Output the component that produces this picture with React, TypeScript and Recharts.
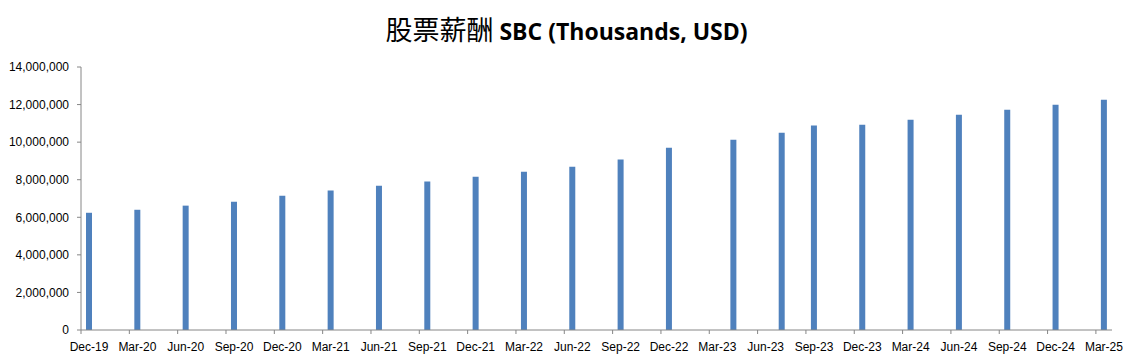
import React from "react";
import { BarChart, Bar, XAxis, YAxis } from "recharts";

// quarter-end dates the company reported on (two of them fall a month late)
const REPORT_DATES = [
  "Dec-19", "Mar-20", "Jun-20", "Sep-20", "Dec-20", "Mar-21", "Jun-21", "Sep-21",
  "Dec-21", "Mar-22", "Jun-22", "Sep-22", "Dec-22", "Apr-23", "Jul-23", "Sep-23",
  "Dec-23", "Mar-24", "Jun-24", "Sep-24", "Dec-24", "Mar-25",
];

// stock based compensation, thousands USD
const SBC_VALUES = [
  6240000, 6400000, 6620000, 6830000, 7150000, 7420000, 7680000, 7900000,
  8160000, 8430000, 8690000, 9070000, 9700000, 10130000, 10500000, 10880000,
  10930000, 11190000, 11460000, 11730000, 11990000, 12260000,
];

const Y_TICKS = [0, 2000000, 4000000, 6000000, 8000000, 10000000, 12000000, 14000000];

const MONTH_NAMES = ["Jan", "Feb", "Mar", "Apr", "May", "Jun", "Jul", "Aug", "Sep", "Oct", "Nov", "Dec"];

// date axis: one slot per calendar month, Dec-19 .. Mar-25
const monthSlots: string[] = [];
for (let y = 2019, m = 11; y < 2025 || (y === 2025 && m <= 2); ) {
  monthSlots.push(`${MONTH_NAMES[m]}-${String(y).slice(2)}`);
  m++;
  if (m > 11) {
    m = 0;
    y++;
  }
}

const data = monthSlots.map((month) => {
  const i = REPORT_DATES.indexOf(month);
  return { month, sbc: i >= 0 ? SBC_VALUES[i] : null };
});

const WIDTH = 1141;
const HEIGHT = 361;
const MARGIN = { top: 67, right: 29, bottom: 0, left: 0 };
const Y_AXIS_W = 81;
const BAND = (WIDTH - MARGIN.left - MARGIN.right - Y_AXIS_W) / monthSlots.length;
const AXIS_COLOR = "#868686";
const FONT = "'Liberation Sans', Arial, sans-serif";

const MonthTick = (props: any) => {
  const { x, y, payload } = props;
  // Excel date axis: tick mark on the slot boundary, label in the middle
  const bx = x - BAND / 2;
  return (
    <g>
      <line x1={bx} x2={bx} y1={y - 12} y2={y - 8} stroke={AXIS_COLOR} />
      <text x={x} y={y} dy="0.71em" textAnchor="middle" fill="#000" fontSize={12} fontFamily={FONT}>
        {payload.value}
      </text>
    </g>
  );
};

export default function App() {
  return (
    <div style={{ position: "relative", width: WIDTH, height: HEIGHT, background: "#fff" }}>
      <style>{`body{margin:0}`}</style>
      <div
        style={{
          position: "absolute",
          top: 12,
          left: 0,
          width: WIDTH - 8,
          textAlign: "center",
          whiteSpace: "nowrap",
          color: "#000",
          lineHeight: "34px",
        }}
      >
        <span style={{ fontFamily: "'Noto Sans CJK SC'", fontSize: 27, fontWeight: 400 }}>股票薪酬</span>
        <span style={{ fontFamily: "'Open Sans', sans-serif", fontSize: 23, fontWeight: 700 }}>
          {" "}SBC (Thousands, USD)
        </span>
      </div>
      <BarChart width={WIDTH} height={HEIGHT} data={data} margin={MARGIN}>
        <XAxis
          dataKey="month"
          interval={2}
          height={31}
          tickSize={4}
          tickMargin={8}
          tickLine={false}
          axisLine={{ stroke: AXIS_COLOR }}
          tick={<MonthTick />}
        />
        <YAxis
          width={Y_AXIS_W}
          domain={[0, 14000000]}
          ticks={Y_TICKS}
          tickSize={4}
          tickMargin={8}
          axisLine={{ stroke: AXIS_COLOR }}
          tickLine={{ stroke: AXIS_COLOR }}
          tick={{ fill: "#000", fontSize: 12, fontFamily: FONT }}
          tickFormatter={(v: number) => v.toLocaleString("en-US")}
        />
        <Bar dataKey="sbc" fill="#4F81BD" barSize={6} isAnimationActive={false} />
      </BarChart>
    </div>
  );
}
